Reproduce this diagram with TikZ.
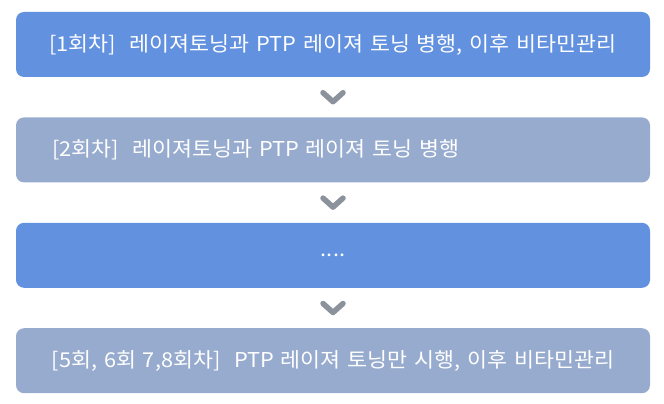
\documentclass[tikz,border=0pt]{standalone}
\usepackage{fontspec}
\newfontfamily\krfont[FakeStretch=1.06]{Noto Sans CJK KR}
\usetikzlibrary{positioning,calc}

\definecolor{stepblue}{HTML}{6291DF}
\definecolor{stepgray}{HTML}{97ABCE}
\definecolor{chevgray}{HTML}{8C929C}

\begin{document}
\begin{tikzpicture}[x=1pt, y=1pt, node distance=40pt,
  stepbox/.style={rectangle, rounded corners=8pt, minimum width=634pt, minimum height=65pt,
    text width=594pt, inner xsep=20pt, inner ysep=0pt, text=white, align=center,
    font=\krfont\fontsize{20.5}{24}\selectfont},
  chev/.style={draw=chevgray, line width=5.5pt, line cap=round, line join=round}]
\useasboundingbox (0,0) rectangle (664,-404);

% 단계 상자
\node[stepbox, fill=stepblue] (first) at (333,-44.5) {[1회차]\ \ 레이져토닝과 PTP 레이져 토닝 병행, 이후 비타민관리};
\node[stepbox, fill=stepgray, align=left, below=of first] (second) {\hspace*{16pt}[2회차]\ \ 레이져토닝과 PTP 레이져 토닝 병행};
\node[stepbox, fill=stepblue, below=of second] (dots) {....};
\node[stepbox, fill=stepgray, below=of dots] (last) {[5회, 6회 7,8회차]\ \ PTP 레이져 토닝만 시행, 이후 비타민관리};

% 화살표
\foreach \a/\b in {first/second, second/dots, dots/last} {
  \path (\a.south) -- (\b.north) coordinate[midway] (m);
  \draw[chev] ([shift={(-10,4.5)}]m) -- ([shift={(0,-4.5)}]m) -- ([shift={(10,4.5)}]m);
}
\end{tikzpicture}
\end{document}
